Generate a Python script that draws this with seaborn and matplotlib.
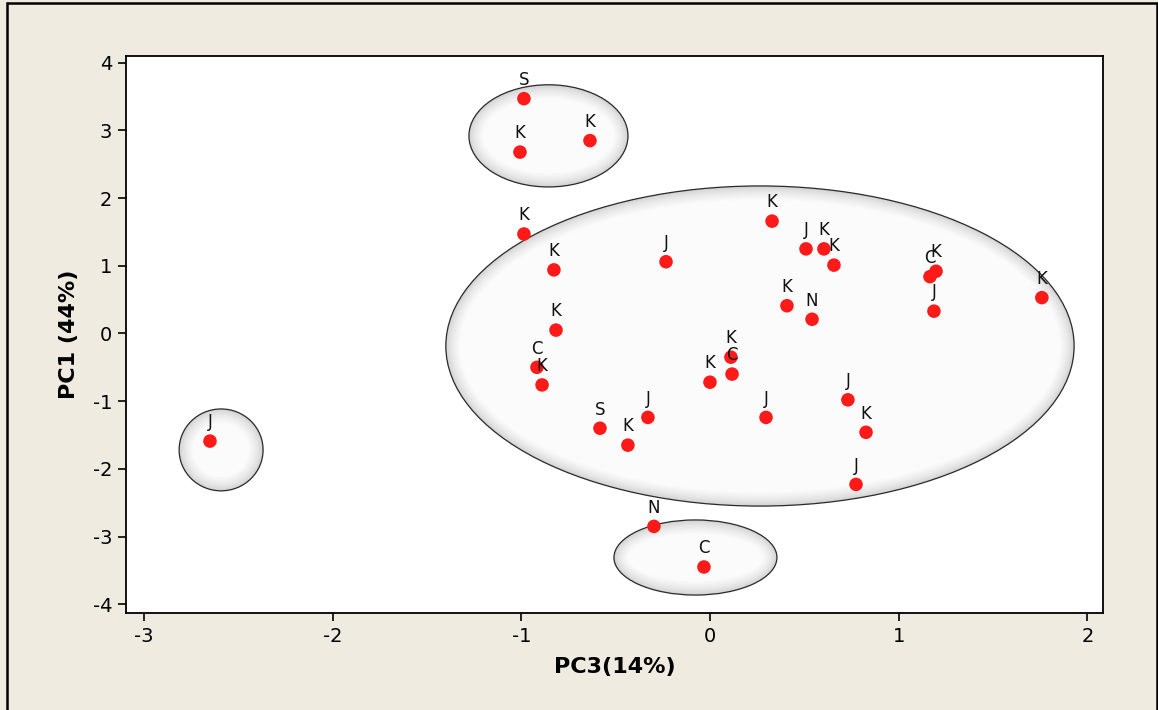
import numpy as np
import pandas as pd
import matplotlib
matplotlib.use("Agg")
import matplotlib.pyplot as plt
from matplotlib.patches import Ellipse, Rectangle
import seaborn as sns

# ---- data ----
pc3 = [-0.986, -1.007, -0.636, -0.986, -0.827, -0.233, -0.816, -0.917, -0.890,
       -0.583, -0.435, -0.329, 0.000, 0.111, 0.117, 0.297, 0.329, 0.509, 0.604,
       0.657, 0.408, 0.541, 1.166, 1.198, 1.187, 1.759, 0.731, 0.827, 0.774,
       -2.650, -0.297, -0.032]
pc1 = [3.47, 2.68, 2.85, 1.47, 0.94, 1.06, 0.05, -0.50, -0.76,
       -1.40, -1.65, -1.24, -0.72, -0.35, -0.60, -1.24, 1.66, 1.25, 1.25,
       1.01, 0.41, 0.21, 0.84, 0.92, 0.33, 0.53, -0.98, -1.46, -2.23,
       -1.59, -2.85, -3.45]
labels = ["S", "K", "K", "K", "K", "J", "K", "C", "K",
          "S", "K", "J", "K", "K", "C", "J", "K", "J", "K",
          "K", "K", "N", "C", "K", "J", "K", "J", "K", "J",
          "J", "N", "C"]

# group ellipses: centre x, centre y, width, height (data units)
ell_cx = [0.265, -0.856, -2.591, -0.077]
ell_cy = [-0.185, 2.92, -1.72, -3.31]
ell_w = [3.33, 0.843, 0.445, 0.864]
ell_h = [4.73, 1.51, 1.21, 1.11]

xticks = [-3, -2, -1, 0, 1, 2]
yticks = [-4, -3, -2, -1, 0, 1, 2, 3, 4]

df = pd.DataFrame({"PC3": pc3, "PC1": pc1, "label": labels})

sns.set_style("white")
plt.rcParams["font.family"] = ["DejaVu Sans"]
plt.rcParams["text.color"] = "black"
plt.rcParams["axes.labelcolor"] = "black"

bg = "#EFEBE1"
fig = plt.figure(figsize=(11.58, 7.10), dpi=100, facecolor=bg)
ax = fig.add_axes([126 / 1158, 1 - 613 / 710, (1103 - 126) / 1158, (613 - 56) / 710])
ax.set_facecolor("white")

# glassy ellipses: opaque gradient from grey edge to white centre
edge_rgb = np.array([0.80, 0.80, 0.80])
white = np.array([0.985, 0.985, 0.985])
for cx, cy, w, h in zip(ell_cx, ell_cy, ell_w, ell_h):
    # pixel-ish scale so gradient band has similar width for all ellipses
    wp, hp = w * 188.7, h * 67.6
    band = 14.0  # px
    n = 24
    for i in range(n + 1):
        t = i / n
        c = edge_rgb + (white - edge_rgb) * (t ** 0.6)
        dw = 2 * band * t
        ax.add_patch(Ellipse((cx, cy), (wp - dw) / 188.7, (hp - dw) / 67.6,
                             facecolor=tuple(c), edgecolor="none", zorder=1))
    ax.add_patch(Ellipse((cx, cy), w, h, facecolor="none",
                         edgecolor="#2a2a2a", linewidth=0.9, zorder=2))

sns.scatterplot(data=df, x="PC3", y="PC1", ax=ax, color="#FF1A1A", s=95,
                edgecolor="none", linewidth=0, zorder=3, legend=False)

for x, y, t in zip(pc3, pc1, labels):
    ax.annotate(t, (x, y), xytext=(0, 7), textcoords="offset points",
                ha="center", va="bottom", fontsize=12, color="#111111", zorder=4)

ax.set_xlim(-3.095, 2.083)
ax.set_ylim(-4.13, 4.10)
ax.set_xticks(xticks)
ax.set_yticks(yticks)
ax.set_xticklabels([str(v) for v in xticks])
ax.set_yticklabels([str(v) for v in yticks])
ax.tick_params(axis="both", which="both", direction="out", length=6, width=1.2,
               color="black", labelsize=14, labelcolor="black",
               bottom=True, left=True, top=False, right=False, pad=4)
for sp in ax.spines.values():
    sp.set_visible(True)
    sp.set_color("black")
    sp.set_linewidth(1.3)

ax.set_xlabel("PC3(14%)", fontsize=16, fontweight="bold", labelpad=8, color="black")
ax.set_ylabel("PC1 (44%)", fontsize=16, fontweight="bold", labelpad=10, color="black")

# figure frame
fig.patches.append(Rectangle((7 / 1158, -0.05), (1157 - 7) / 1158, 1.05 - 3 / 710,
                             transform=fig.transFigure, facecolor="none",
                             edgecolor="black", linewidth=1.8, zorder=10))

fig.savefig("out.png", dpi=100, facecolor=bg)
